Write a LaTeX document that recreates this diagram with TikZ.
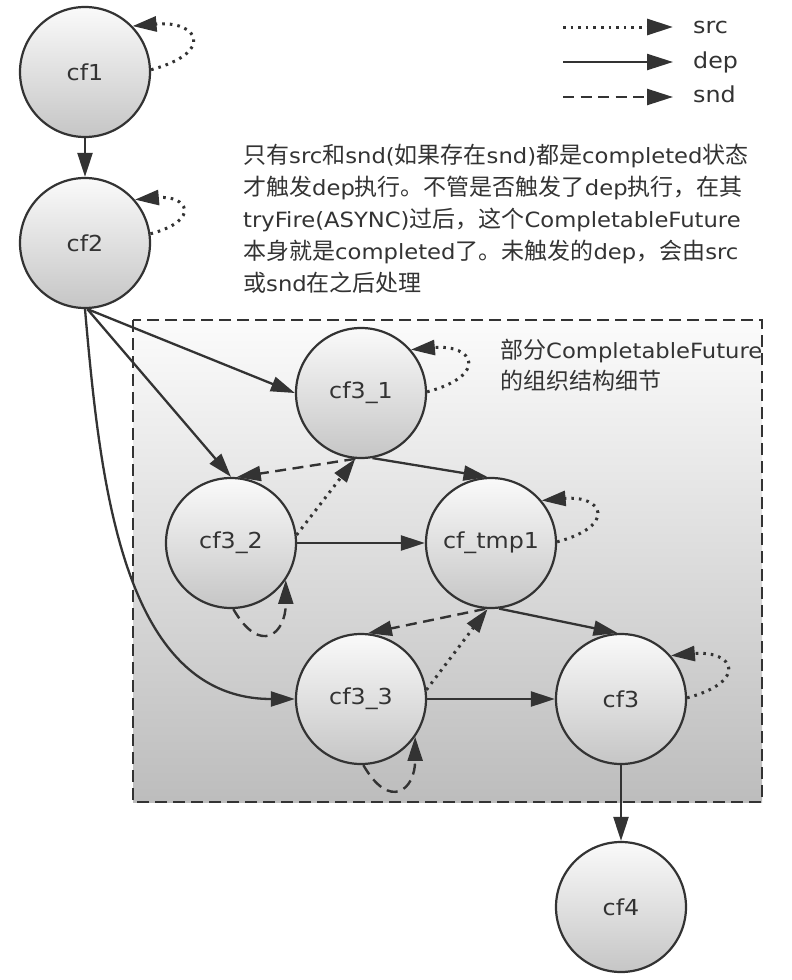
\documentclass[tikz,border=0pt]{standalone}
\usepackage{fontspec}
\setmainfont[FakeStretch=1.08]{DejaVu Sans}
\newfontfamily\cjkf{Noto Sans CJK SC}
\usetikzlibrary{arrows.meta}
\newcommand\zh[1]{{\cjkf\fontsize{23}{32}\selectfont #1}}
\definecolor{ln}{HTML}{333333}
\tikzset{
  cfnode/.style={circle, draw=ln, line width=2.2pt, minimum size=130pt, inner sep=0pt,
    top color=gray!4, bottom color=gray!45, text=ln, font=\fontsize{22}{26}\selectfont},
  tipa/.style={-{Triangle[length=24pt,width=15pt]}},
  tipb/.style={-{Triangle[length=26pt,width=16pt]}},
  depl/.style={draw=ln, line width=2.3pt},
  srcl/.style={draw=ln, line width=3pt, dash pattern=on 2.6pt off 5pt},
  sndl/.style={draw=ln, line width=2.4pt, dash pattern=on 11pt off 6.5pt},
  dep/.style={depl, tipa},
  src/.style={srcl, tipa},
  snd/.style={sndl, tipa},
  srcloop/.style={src, out=15, in=5, looseness=3.6},
  sndloop/.style={snd, out=-60, in=-90, looseness=2.3},
  txt/.style={anchor=base west, inner sep=0pt, text=ln, font=\fontsize{21}{32}\selectfont},
  legtxt/.style={anchor=base west, inner sep=0pt, text=ln, font=\fontsize{22}{26}\selectfont},
}
\begin{document}
\begin{tikzpicture}[x=1pt, y=1pt]
\useasboundingbox (0,0) rectangle (792,-980);
\fill[white] (0,0) rectangle (792,-980);

% group box
\path[draw=ln, line width=2.6pt, dash pattern=on 12pt off 6pt, top color=gray!3, bottom color=gray!52]
  (133,-320) rectangle (762,-802);
\node[txt] (cap1) at (500,-358) {\zh{部分}CompletableFuture};
\node[txt] (cap2) at (500,-389) {\zh{的组织结构细节}};

% legend
\coordinate (l1a) at (563,-27); \coordinate (l1b) at (673,-27);
\coordinate (l2a) at (563,-62); \coordinate (l2b) at (673,-62);
\coordinate (l3a) at (563,-97); \coordinate (l3b) at (673,-97);
\draw[srcl, tipb] (l1a) -- (l1b);
\draw[depl, tipb] (l2a) -- (l2b);
\draw[sndl, tipb] (l3a) -- (l3b);
\node[legtxt] (lsrc) at (693,-33) {src};
\node[legtxt] (ldep) at (693,-68) {dep};
\node[legtxt] (lsnd) at (693,-102) {snd};

% description
\node[txt] (d1) at (243,-163) {\zh{只有}src\zh{和}snd(\zh{如果存在}snd)\zh{都是}completed\zh{状态}};
\node[txt] (d2) at (243,-195) {\zh{才触发}dep\zh{执行。不管是否触发了}dep\zh{执行，在其}};
\node[txt] (d3) at (243,-227) {tryFire(ASYNC)\zh{过后，这个}CompletableFuture};
\node[txt] (d4) at (243,-259) {\zh{本身就是}completed\zh{了。未触发的}dep\zh{，会由}src};
\node[txt] (d5) at (243,-291) {\zh{或}snd\zh{在之后处理}};

% nodes
\node[cfnode] (cf1) at (85,-72) {cf1};
\node[cfnode] (cf2) at (85,-243) {cf2};
\node[cfnode] (cf31) at (361,-393) {cf3\_1};
\node[cfnode] (cf32) at (231,-543) {cf3\_2};
\node[cfnode] (cftmp) at (491,-543) {cf\_tmp1};
\node[cfnode] (cf33) at (361,-699) {cf3\_3};
\node[cfnode] (cf3) at (621,-699) {cf3};
\node[cfnode] (cf4) at (621,-907) {cf4};

% dep edges
\draw[dep] (cf1) -- (cf2);
\draw[dep] (cf2.-88) -- (cf31.west);
\draw[dep] (cf2.-88) -- (cf32.north);
\draw[dep] (cf2.-90) to[out=-85, in=180] (cf33.west);
\draw[dep] (cf31.-80) -- (cftmp.93);
\draw[dep] (cf32.east) -- (cftmp.west);
\draw[dep] (cftmp.-83) -- (cf3.93);
\draw[dep] (cf33.east) -- (cf3.west);
\draw[dep] (cf3) -- (cf4);

% snd edges
\draw[snd] (cf31.-95) -- (cf32.85);
\draw[snd] (cftmp.-95) -- (cf33.84);

% src edges
\draw[src] (cf32.7) -- (cf31.-95);
\draw[src] (cf33.8) -- (cftmp.-93);

% self loops
\draw[srcloop] (cf1.2) to (cf1.44);
\draw[srcloop] (cf2.8) to (cf2.41);
\draw[srcloop] (cf31.1) to (cf31.41);
\draw[srcloop] (cftmp.1) to (cftmp.40);
\draw[srcloop] (cf3.1) to (cf3.41);
\draw[sndloop] (cf32.-88) to (cf32.-34);
\draw[sndloop] (cf33.-88) to (cf33.-35);
\end{tikzpicture}
\end{document}
